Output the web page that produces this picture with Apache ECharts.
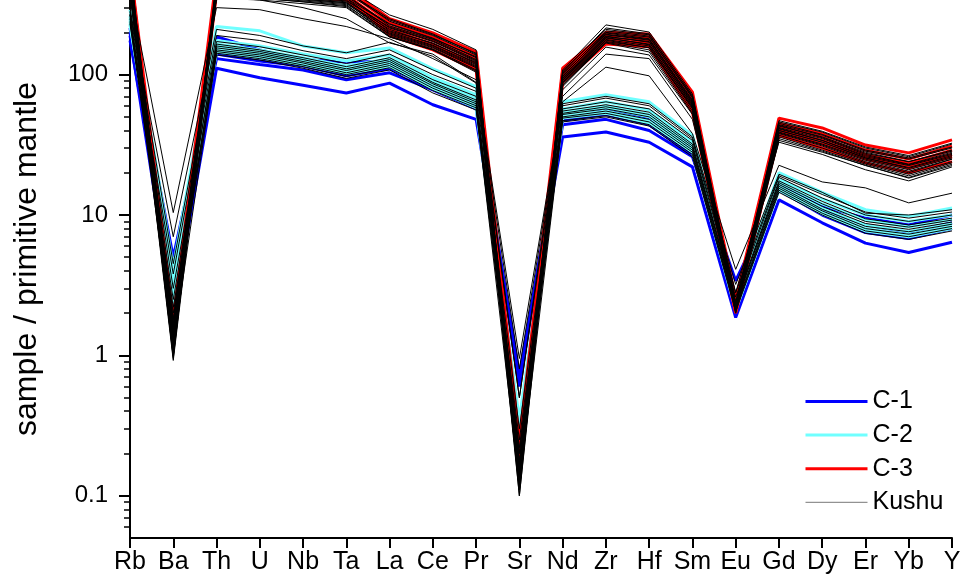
<!DOCTYPE html>
<html>
<head>
<meta charset="utf-8">
<script src="https://cdn.jsdelivr.net/npm/echarts@6/dist/echarts.min.js"></script>
<style>
  html, body { margin: 0; padding: 0; background: #fff; }
  #main { width: 965px; height: 588px; }
</style>
</head>
<body>
<div id="main"></div>
<script>
// element order on the x axis
var categories = ['Rb', 'Ba', 'Th', 'U', 'Nb', 'Ta', 'La', 'Ce', 'Pr', 'Sr', 'Nd', 'Zr', 'Hf', 'Sm', 'Eu', 'Gd', 'Dy', 'Er', 'Yb', 'Y'];

// y axis ticks
var majorTicks = [0.1, 1, 10, 100];
var minorTicks = [0.06, 0.07, 0.08, 0.09, 0.2, 0.3, 0.4, 0.5, 0.6, 0.7, 0.8, 0.9,
                  2, 3, 4, 5, 6, 7, 8, 9, 20, 30, 40, 50, 60, 70, 80, 90, 200, 300];

// C-1 (blue)
var c1Lines = [
  [190, 2.0, 111, 95, 84, 74, 87, 61, 48, 0.7, 36, 39, 33, 22, 1.86, 12.8, 8.8, 6.3, 5.4, 6.4],
  [200, 5.0, 130, 118, 108, 92, 103, 78, 57, 0.72, 44, 48, 40, 26, 3.4, 15, 10, 7.5, 6.8, 8.0],
  [175, 3.5, 140, 125, 115, 98, 110, 82, 60, 0.65, 47, 52, 44, 27, 2.6, 16, 11, 8.5, 7.5, 8.8],
  [215, 2.8, 186, 150, 128, 123, 124, 90, 62, 0.6, 48, 56, 48, 28, 2.2, 17, 11.5, 9.5, 8.5, 10]
];

// C-2 (cyan)
var c2Lines = [
  [290, 4.3, 220, 205, 160, 143, 155, 110, 82, 0.3, 64, 72, 64, 37, 2.6, 20, 14.5, 10.9, 9.8, 11.2],
  [260, 2.3, 175, 160, 140, 125, 138, 95, 72, 0.24, 57, 64, 56, 33, 2.5, 18, 13, 10, 9.0, 10],
  [240, 3.0, 165, 150, 132, 115, 130, 90, 68, 0.35, 54, 60, 52, 31, 2.4, 17, 12, 9.2, 8.2, 9.3],
  [225, 3.6, 158, 142, 126, 110, 124, 86, 64, 0.28, 52, 58, 50, 30, 2.3, 16, 11.2, 8.5, 7.6, 8.7],
  [250, 2.6, 150, 137, 120, 105, 118, 82, 61, 0.32, 50, 55, 47, 29, 2.2, 15.5, 10.6, 8.0, 7.2, 8.3],
  [230, 3.2, 145, 132, 117, 102, 114, 79, 58, 0.26, 49, 53, 45, 28, 2.1, 15, 10.2, 7.7, 7.0, 8.0]
];

// C-3 (red)
var c3Lines = [
  [600, 1.8, 500, 470, 450, 420, 250, 198, 145, 0.25, 111, 200, 195, 75, 2.5, 49, 41.7, 31.5, 27.7, 34.3],
  [550, 1.5, 460, 440, 420, 400, 235, 185, 135, 0.2, 105, 190, 185, 70, 2.3, 45, 38, 29, 25, 31],
  [480, 1.3, 430, 410, 390, 370, 220, 175, 128, 0.16, 100, 180, 178, 66, 2.2, 43, 36, 27, 23.5, 29],
  [520, 1.6, 400, 390, 370, 350, 210, 165, 120, 0.22, 96, 172, 170, 62, 2.1, 41, 34, 26, 22.5, 27],
  [450, 1.2, 380, 370, 355, 340, 200, 160, 112, 0.18, 92, 168, 162, 58, 2.0, 39, 32, 25, 21.5, 26],
  [580, 1.4, 420, 400, 380, 360, 190, 150, 108, 0.19, 88, 165, 158, 54, 2.05, 37, 30, 23.5, 20, 24]
];

// Kushu (thin black)
var kushuLines = [
  [620, 1.0, 480, 460, 440, 410, 266, 210, 150, 0.1, 108, 226, 201, 73, 2.4, 46, 39, 30, 26, 32],
  [540, 1.1, 440, 420, 400, 380, 245, 192, 142, 0.13, 106, 210, 192, 71, 2.35, 47, 39.5, 30.5, 26.5, 32.5],
  [560, 1.2, 450, 430, 410, 390, 250, 195, 140, 0.12, 104, 215, 195, 70, 2.3, 44, 37, 28.5, 25, 30],
  [460, 1.35, 410, 390, 370, 350, 228, 180, 134, 0.16, 102, 200, 185, 69, 2.25, 45, 37.5, 29, 25.5, 30.5],
  [500, 0.95, 470, 450, 425, 395, 240, 190, 138, 0.14, 100, 205, 188, 68, 2.2, 43, 36, 28, 24, 29],
  [500, 1.05, 395, 375, 355, 335, 218, 174, 126, 0.12, 98, 194, 178, 65, 2.1, 43.5, 35.5, 27.5, 24, 28.5],
  [530, 1.5, 420, 400, 380, 360, 230, 182, 132, 0.13, 97, 198, 180, 66, 2.15, 42, 35, 27, 23, 28],
  [470, 1.1, 440, 420, 395, 370, 222, 178, 128, 0.11, 95, 192, 176, 64, 2.25, 41, 34, 26, 22.5, 27],
  [430, 1.45, 385, 365, 345, 325, 210, 166, 122, 0.15, 94, 188, 170, 63, 2.2, 41.5, 34, 26.5, 22.8, 27.5],
  [450, 1.8, 400, 380, 360, 340, 215, 172, 124, 0.15, 93, 186, 172, 62, 2.1, 40, 33, 25.5, 21.5, 26],
  [570, 1.15, 375, 360, 340, 320, 202, 162, 118, 0.11, 91, 184, 163, 61, 2.05, 40, 33, 25.5, 21.8, 26.5],
  [590, 1.3, 410, 395, 370, 350, 205, 168, 120, 0.17, 90, 182, 165, 60, 2.3, 39, 32, 25, 21, 25.5],
  [420, 1.0, 390, 370, 350, 330, 198, 160, 116, 0.12, 88, 178, 160, 58, 2.0, 38, 31, 24, 20, 25],
  [410, 0.98, 365, 350, 330, 310, 195, 157, 114, 0.13, 87, 176, 155, 59, 2.15, 38.5, 31.5, 24.5, 20.5, 25],
  [510, 1.6, 380, 365, 345, 325, 192, 155, 112, 0.2, 86, 172, 156, 57, 2.2, 37, 30, 23.5, 19.5, 24],
  [440, 1.25, 370, 355, 335, 315, 188, 152, 108, 0.14, 84, 170, 150, 55, 2.05, 36, 29, 23, 19, 23.5],
  [480, 1.4, 360, 350, 330, 305, 186, 150, 106, 0.11, 82, 168, 145, 53, 2.15, 35, 28.5, 22.5, 18.5, 23],
  [400, 0.92, 350, 340, 320, 300, 185, 150, 104, 0.1, 78, 157, 138, 52, 2.0, 34, 28, 22.6, 18.3, 22.5],
  [400, 10.4, 300, 290, 250, 220, 180, 130, 92, 0.95, 64, 113, 98, 38, 4.1, 22.6, 17.2, 15.6, 12.2, 14.3],
  [360, 1.7, 360, 340, 300, 250, 168, 140, 88, 0.5, 70, 140, 130, 48, 2.8, 33, 27, 21, 17.5, 22],
  [280, 7.0, 210, 190, 160, 143, 170, 135, 87, 0.8, 62, 70, 62, 36, 3.2, 19.5, 14.5, 10.3, 10, 10.9],
  [300, 4.5, 190, 175, 148, 130, 150, 108, 80, 0.5, 60, 68, 60, 35, 2.8, 19, 14, 10.5, 9.5, 10.5],
  [240, 3.8, 172, 158, 138, 120, 140, 100, 76, 0.3, 57, 64, 57, 34, 2.6, 18.5, 13.2, 10, 9, 10],
  [265, 2.5, 165, 150, 132, 114, 132, 92, 70, 0.22, 55, 61, 54, 32, 2.4, 17.5, 12.5, 9.4, 8.5, 9.5],
  [230, 1.6, 160, 146, 128, 110, 128, 88, 66, 0.18, 53, 59, 52, 31, 2.3, 17, 12, 9, 8.2, 9.2],
  [285, 3.0, 155, 142, 124, 107, 124, 86, 64, 0.25, 52, 57, 50, 30, 2.35, 16.5, 11.5, 8.7, 7.9, 8.9],
  [250, 2.0, 150, 138, 121, 103, 120, 83, 62, 0.2, 50, 55, 48, 29, 2.2, 16, 11, 8.3, 7.6, 8.6],
  [270, 1.2, 146, 134, 117, 100, 116, 80, 60, 0.15, 49, 53, 46, 28, 2.15, 15.5, 10.7, 8, 7.3, 8.3],
  [235, 2.2, 142, 130, 114, 97, 112, 77, 58, 0.12, 47, 51, 44, 27, 2.1, 15, 10.3, 7.7, 7.0, 8.0],
  [255, 1.8, 138, 127, 111, 94, 108, 74, 56, 0.17, 46, 50, 43, 26, 2.05, 14.5, 10, 7.4, 6.7, 7.7]
];

var FONT = 'Liberation Sans, Arial, sans-serif';

function makeSeries(name, lines, color, width) {
    return lines.map(function (d) {
        return {
            name: name,
            type: 'line',
            data: d,
            symbol: 'none',
            silent: true,
            itemStyle: { color: color },
            lineStyle: { color: color, width: width }
        };
    });
}

var series = [].concat(
    makeSeries('C-1', c1Lines, '#0000FF', 3),
    makeSeries('C-2', c2Lines, '#70FFFF', 3),
    makeSeries('C-3', c3Lines, '#FF0000', 3),
    makeSeries('Kushu', kushuLines, '#000000', 1)
);

var myChart = echarts.init(document.getElementById('main'));

var option = {
    animation: false,
    backgroundColor: '#fff',
    grid: { left: 130, right: 13, top: 0, bottom: 50, containLabel: false },
    legend: {
        orient: 'vertical',
        left: 804,
        top: 389,
        padding: 0,
        itemWidth: 62,
        itemHeight: 14,
        itemGap: 8.6,
        selectedMode: false,
        itemStyle: { opacity: 0 },
        textStyle: { fontSize: 25, fontFamily: FONT, color: '#000', lineHeight: 24 },
        data: [
            { name: 'C-1', lineStyle: { width: 3 } },
            { name: 'C-2', lineStyle: { width: 3 } },
            { name: 'C-3', lineStyle: { width: 3 } },
            { name: 'Kushu', lineStyle: { width: 1, color: '#777' } }
        ]
    },
    xAxis: {
        type: 'category',
        data: categories,
        boundaryGap: false,
        axisLine: { lineStyle: { color: '#000', width: 2 } },
        axisTick: { length: 10, lineStyle: { color: '#000', width: 2 } },
        axisLabel: { fontSize: 25, fontFamily: FONT, color: '#000', margin: 12, interval: 0 },
        splitLine: { show: false }
    },
    yAxis: [{
        type: 'log',
        logBase: 10,
        min: 0.05,
        max: 340,
        position: 'left',
        name: 'sample / primitive mantle',
        nameLocation: 'middle',
        nameRotate: 90,
        nameGap: 87,
        nameTextStyle: { fontSize: 32, fontFamily: FONT, color: '#000', padding: [0, 0, 0, 20] },
        axisLine: { show: true, lineStyle: { color: '#000', width: 2 } },
        axisTick: { show: true, length: 11, customValues: majorTicks, lineStyle: { color: '#000', width: 2 } },
        axisLabel: {
            fontSize: 24, fontFamily: FONT, color: '#000', margin: 22,
            customValues: majorTicks,
            formatter: function (v) { return String(v); }
        },
        splitLine: { show: false }
    }, {
        type: 'log',
        logBase: 10,
        min: 0.05,
        max: 340,
        position: 'left',
        axisLine: { show: false },
        axisTick: { show: true, length: 6, customValues: minorTicks, lineStyle: { color: '#000', width: 1.5 } },
        axisLabel: { show: false },
        splitLine: { show: false }
    }],
    series: series
};

myChart.setOption(option);
</script>
</body>
</html>
